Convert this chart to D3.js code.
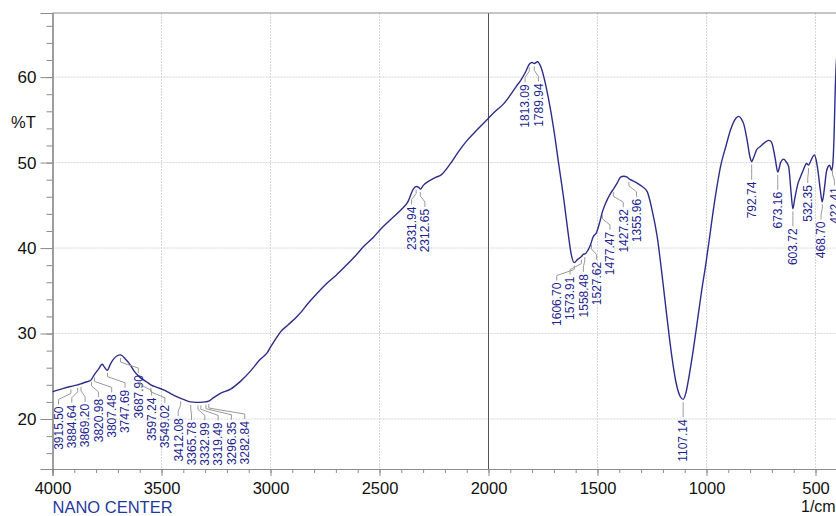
<!DOCTYPE html>
<html><head><meta charset="utf-8">
<script src="https://cdn.jsdelivr.net/npm/d3@7"></script>
<style>
html,body{margin:0;padding:0;background:#fff;overflow:hidden;}
svg{display:block;font-family:"Liberation Sans",Arial,sans-serif;}
</style></head>
<body>
<svg id="chart" width="836" height="516"></svg>
<script>
// wavenumber (1/cm) and transmittance (%T)
const wavenumbers = [4000,3960,3917,3900,3885,3870,3850,3826,3808,3790,3772,3760,3749,3735,3720,3703,3690,3680,3665,3651,3640,3628,3600,3566,3549,3520,3490,3460,3428,3400,3367,3340,3321,3300,3283,3261,3230,3183,3138,3092,3050,3014,3000,2970,2954,2920,2878,2850,2832,2790,2740,2700,2648,2610,2572,2530,2495,2450,2400,2370,2345,2332,2320,2312,2300,2266,2240,2220,2174,2140,2098,2050,2000,1960,1930,1900,1870,1853,1830,1813,1800,1790,1775,1760,1746,1725,1700,1680,1654,1635,1620,1607,1590,1574,1563,1558,1545,1532,1520,1505,1490,1478,1460,1440,1427,1410,1394,1380,1364,1356,1340,1318,1295,1272,1250,1226,1200,1180,1160,1140,1120,1107,1095,1080,1060,1040,1020,1005,990,970,950,936,910,890,870,852,840,829,815,800,793,785,770,752,735,715,705,699,685,673,660,646,635,623,612,604,595,580,569,555,541,532,520,505,497,489,478,469,460,450,443,435,427,422,415,410,405,400];
const transmittance = [23.2,23.5,23.8,23.9,24.0,24.1,24.3,24.5,25.2,25.8,26.4,26.0,25.7,26.4,27.0,27.4,27.5,27.4,27.0,26.6,26.2,25.7,24.9,24.3,24.0,23.7,23.4,23.0,22.6,22.3,22.0,21.95,21.95,22.0,22.1,22.5,23.0,23.5,24.4,25.6,26.9,27.8,28.4,29.6,30.2,31.0,32.0,32.8,33.4,34.6,35.9,36.8,38.1,39.1,40.2,41.2,42.2,43.3,44.5,45.4,46.9,47.2,47.1,46.9,47.3,47.95,48.3,48.5,49.9,51.2,52.6,53.9,55.2,56.2,56.9,57.9,59.0,59.6,60.6,61.5,61.7,61.6,61.8,61.2,60.0,57.5,53.8,50.2,45.6,41.8,39.2,38.3,38.7,39.0,39.3,39.3,39.7,40.4,41.3,41.8,43.0,44.2,45.4,46.4,46.9,47.6,48.3,48.4,48.3,48.1,47.9,47.6,47.2,46.6,44.5,41.3,36.0,31.6,27.5,24.3,22.6,22.3,23.0,25.0,28.2,31.8,35.4,37.8,40.5,44.2,47.5,49.5,52.0,53.8,55.0,55.4,55.1,54.5,52.8,50.6,50.1,50.5,51.5,51.9,52.3,52.6,52.5,52.2,50.5,48.9,50.0,50.4,50.1,49.5,46.5,44.6,45.8,47.6,48.3,49.2,49.9,49.7,50.3,50.9,50.3,49.1,46.8,45.4,46.8,48.9,49.5,49.7,49.1,49.5,53.0,58.0,61.5,63.0];

// peak labels
const peakLabels = ["3915.50","3884.64","3869.20","3820.98","3807.48","3747.69","3687.90","3597.24","3549.02","3412.08","3365.78","3332.99","3319.49","3296.35","3282.84","2331.94","2312.65","1813.09","1789.94","1606.70","1573.91","1558.48","1527.62","1477.47","1427.32","1355.96","1107.14","792.74","673.16","603.72","532.35","468.70","422.41"];

const xMajorTicks = [4000,3500,3000,2500,2000,1500,1000,500];
const yMajorTicks = [20,30,40,50,60];

const svg = d3.select("#chart");
const pLeft = 52.5, pRight = 837.3, pTop = 13, pBottom = 469;
const x = d3.scaleLinear().domain([4000,400]).range([pLeft,pRight]);
const y = d3.scaleLinear().domain([14.15,67.5]).range([pBottom,pTop]);

const gridColor = "#d6d6d6", axisColor = "#8c8c8c";

// grid
const grid = svg.append("g");
grid.selectAll(".gx").data(xMajorTicks.filter(v=>v!==4000 && v!==2000)).enter().append("line")
  .attr("x1",d=>x(d)).attr("x2",d=>x(d)).attr("y1",pTop).attr("y2",pBottom)
  .attr("stroke",gridColor).attr("stroke-width",1).attr("stroke-dasharray","2,1");
grid.selectAll(".gy").data(yMajorTicks).enter().append("line")
  .attr("x1",pLeft).attr("x2",pRight).attr("y1",d=>y(d)).attr("y2",d=>y(d))
  .attr("stroke",gridColor).attr("stroke-width",1).attr("stroke-dasharray","2,1");
// 2000 divider
svg.append("line").attr("x1",x(2000)).attr("x2",x(2000)).attr("y1",pTop).attr("y2",pBottom)
  .attr("stroke","#555").attr("stroke-width",1);

// top frame
svg.append("line").attr("x1",pLeft).attr("x2",pRight).attr("y1",pTop).attr("y2",pTop)
  .attr("stroke",axisColor).attr("stroke-width",1.2);

// x axis
const xMinor = d3.range(4000,399,-100);
const xAxisMinor = d3.axisBottom(x).tickValues(xMinor).tickSize(4).tickFormat("");
const gxm = svg.append("g").attr("transform",`translate(0,${pBottom})`).call(xAxisMinor);
const xAxis = d3.axisBottom(x).tickValues(xMajorTicks).tickSize(7).tickPadding(6).tickFormat(d3.format("d"));
const gx = svg.append("g").attr("transform",`translate(0,${pBottom})`).call(xAxis);
[gx,gxm].forEach(g=>{
  g.select(".domain").attr("stroke",axisColor).attr("stroke-width",1.2);
  g.selectAll(".tick line").attr("stroke",axisColor);
});
gx.selectAll(".tick text").attr("font-size","16.5px").attr("fill","#111").attr("font-family","'Liberation Sans',Arial,sans-serif");

// y axis
const yMinor = d3.range(16,67.6,2);
const yAxisMinor = d3.axisLeft(y).tickValues(yMinor).tickSize(6).tickFormat("");
const gym = svg.append("g").attr("transform",`translate(${pLeft},0)`).call(yAxisMinor);
const yAxis = d3.axisLeft(y).tickValues(yMajorTicks).tickSize(12).tickPadding(4).tickFormat(d3.format("d"));
const gy = svg.append("g").attr("transform",`translate(${pLeft},0)`).call(yAxis);
[gy,gym].forEach(g=>{
  g.select(".domain").attr("stroke",axisColor).attr("stroke-width",1.2);
  g.selectAll(".tick line").attr("stroke",axisColor);
});
gy.selectAll(".tick text").attr("font-size","17px").attr("fill","#111").attr("font-family","'Liberation Sans',Arial,sans-serif");

// axis titles
svg.append("text").attr("x",11).attr("y",128).attr("font-size","16.5px").attr("fill","#111").text("%T");
svg.append("text").attr("x",52.5).attr("y",513).attr("font-size","16.5px").attr("fill","#1f3a9e").text("NANO CENTER");
svg.append("text").attr("x",801).attr("y",512).attr("font-size","16px").attr("fill","#111").text("1/cm");

// spectrum
const data = wavenumbers.map((w,i)=>({w, t: transmittance[i]}));
const line = d3.line().x(d=>x(d.w)).y(d=>y(d.t)).curve(d3.curveMonotoneX);
svg.append("path").datum(data).attr("d",line).attr("fill","none")
  .attr("stroke","#2d2d88").attr("stroke-width",1.4).attr("stroke-linejoin","round");

// peak label layout
const interpT = w => {
  for (let i=0;i<wavenumbers.length-1;i++){
    const a=wavenumbers[i], b=wavenumbers[i+1];
    if (w<=a && w>=b){ const f=(a-w)/(a-b); return transmittance[i]+f*(transmittance[i+1]-transmittance[i]); }
  }
  return transmittance[transmittance.length-1];
};
const gap = 13.3;
const peaks = peakLabels.map(s=>{const w=+s; return {s, w, px:x(w), py:y(interpT(w))};}).sort((a,b)=>a.px-b.px);
let clusters = peaks.map(p=>({items:[p], center:p.px}));
let changed = true;
while (changed){
  changed = false;
  for (let i=0;i<clusters.length-1;i++){
    const c1=clusters[i], c2=clusters[i+1];
    const r1 = c1.center + (c1.items.length-1)*gap/2;
    const l2 = c2.center - (c2.items.length-1)*gap/2;
    if (l2 - r1 < gap - 0.01){
      const items = c1.items.concat(c2.items);
      clusters.splice(i,2,{items, center: d3.mean(items,d=>d.px)});
      changed = true; break;
    }
  }
}
clusters.forEach(c=>{
  let start = c.center - (c.items.length-1)*gap/2;
  if (start < pLeft + 6) start = pLeft + 6;
  c.items.forEach((p,k)=>{ p.lx = start + k*gap; });
});

const lg = svg.append("g");
peaks.forEach(p=>{
  const labelTop = p.py + 20;
  const pts = [[p.px,p.py+3],[p.px,p.py+7],[p.lx,labelTop-7],[p.lx,labelTop-2]];
  lg.append("path").attr("d",d3.line()(pts)).attr("fill","none").attr("stroke","#9a9a9a").attr("stroke-width",1);
  lg.append("text").attr("transform",`translate(${p.lx},${labelTop}) rotate(-90)`)
    .attr("text-anchor","end").attr("dy","0.36em").attr("font-size","12px")
    .attr("fill","#1f1f8f").text(p.s);
});
</script>
</body></html>
